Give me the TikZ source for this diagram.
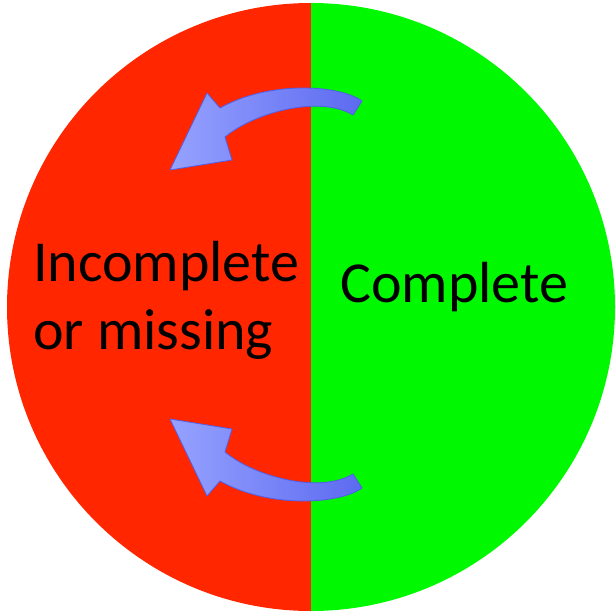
\documentclass[tikz,border=0pt]{standalone}
\usepackage{fontspec}
\setmainfont{Carlito}
\definecolor{redhalf}{RGB}{255,38,0}
\definecolor{greenhalf}{RGB}{0,248,0}
\definecolor{arrowlight}{RGB}{150,162,255}
\definecolor{arrowdark}{RGB}{92,106,240}
\definecolor{arrowedge}{RGB}{80,95,235}
\tikzset{
  curlarrow/.style={shading=axis,left color=arrowlight,middle color=arrowlight,right color=arrowdark,draw=arrowedge,line width=0.8pt,line join=round},
  label/.style={inner sep=0pt,font=\fontsize{58}{68}\selectfont,text=black}
}
\newcommand{\curlpath}{(362,101) .. controls (340,85) and (270,80) .. (220,108) -- (207,93) -- (170,170) -- (232,160) -- (225,137) .. controls (255,112) and (320,95) .. (353,115) -- cycle}
\begin{document}
\begin{tikzpicture}[x=1pt,y=-1pt]
\useasboundingbox (0,0) rectangle (616,613);
\begin{scope}
  \clip (311,307) circle (304);
  \fill[redhalf] (0,0) rectangle (311,613);
  \fill[greenhalf] (311,0) rectangle (616,613);
\end{scope}
\shade[curlarrow] \curlpath;
\begin{scope}[shift={(0,589)},yscale=-1]
  \shade[curlarrow] \curlpath;
\end{scope}
\node[label,align=left,anchor=base west] (inc) at (33,349) {Incomplete\\or missing};
\node[label,anchor=base west] (comp) at (340,302) {Complete};
\end{tikzpicture}
\end{document}
